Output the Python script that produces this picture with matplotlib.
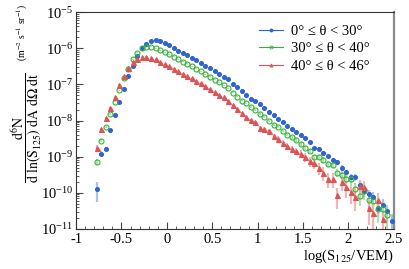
import matplotlib
matplotlib.use("Agg")
import matplotlib.pyplot as plt
from matplotlib.lines import Line2D
import numpy as np

plt.rcParams["font.family"] = ["Liberation Serif", "DejaVu Serif"]
plt.rcParams["mathtext.fontset"] = "stix"

# bin centres in log(S125/VEM)
x_vals = [round(-0.775 + 0.05 * i, 3) for i in range(66)]

flux_0_30 = [1.25e-10, 1.21e-9, 1.63e-9, 5.36e-9, 1.39e-8, 3.25e-8, 7.57e-8, 1.67e-7, 3.27e-7, 6.19e-7,
             9.91e-7, 1.33e-6, 1.58e-6, 1.65e-6, 1.58e-6, 1.39e-6, 1.22e-6, 9.91e-7, 8.51e-7, 7.50e-7,
             6.35e-7, 5.35e-7, 4.62e-7, 3.89e-7, 3.27e-7, 2.77e-7, 2.34e-7, 1.93e-7, 1.63e-7, 1.38e-7,
             1.05e-7, 8.61e-8, 6.55e-8, 5.18e-8, 4.01e-8, 3.40e-8, 2.81e-8, 2.22e-8, 1.75e-8, 1.42e-8,
             1.10e-8, 8.91e-9, 7.19e-9, 5.82e-9, 4.67e-9, 3.97e-9, 3.22e-9, 2.50e-9, 1.71e-9, 1.63e-9,
             1.24e-9, 1.06e-9, 8.24e-10, 6.98e-10, 4.95e-10, 3.70e-10, 2.69e-10, 2.69e-10, 1.62e-10, 1.12e-10,
             9.12e-11, 7.53e-11, 3.88e-11, 4.61e-11, 3.15e-11, 1.67e-11]
err_0_30 = [0.55, 0.15, 0.12, 0.07, 0.05, 0.04, 0.03, 0.03, 0.03, 0.03,
            0.03, 0.03, 0.03, 0.03, 0.03, 0.03, 0.03, 0.03, 0.03, 0.03,
            0.03, 0.03, 0.03, 0.03, 0.03, 0.03, 0.03, 0.03, 0.03, 0.03,
            0.03, 0.03, 0.03, 0.04, 0.04, 0.04, 0.04, 0.05, 0.05, 0.05,
            0.05, 0.06, 0.06, 0.07, 0.07, 0.08, 0.08, 0.09, 0.10, 0.10,
            0.12, 0.12, 0.14, 0.15, 0.17, 0.19, 0.22, 0.22, 0.27, 0.30,
            0.33, 0.36, 0.45, 0.42, 0.50, 0.55]

flux_30_40 = [7.26e-10, 2.77e-9, 6.75e-9, 1.54e-8, 3.31e-8, 6.84e-8, 1.47e-7, 2.65e-7, 4.92e-7, 7.50e-7,
              9.91e-7, 1.08e-6, 1.10e-6, 1.01e-6, 8.89e-7, 7.83e-7, 6.81e-7, 5.81e-7, 4.92e-7, 4.23e-7,
              3.72e-7, 3.15e-7, 2.70e-7, 2.30e-7, 1.93e-7, 1.63e-7, 1.34e-7, 1.14e-7, 9.59e-8, 7.92e-8,
              5.94e-8, 4.55e-8, 3.53e-8, 2.99e-8, 2.41e-8, 1.95e-8, 1.49e-8, 1.23e-8, 9.89e-9, 7.66e-9,
              6.62e-9, 5.13e-9, 3.97e-9, 3.43e-9, 2.89e-9, 2.24e-9, 1.77e-9, 1.46e-9, 9.61e-10, 9.80e-10,
              8.10e-10, 6.40e-10, 6.00e-10, 3.61e-10, 3.12e-10, 2.46e-10, 2.42e-10, 1.30e-10, 8.34e-11, 1.10e-10,
              6.22e-11, 6.07e-11, 3.57e-11, 3.57e-11, 2.44e-11]
err_30_40 = [0.20, 0.10, 0.07, 0.05, 0.04, 0.03, 0.03, 0.03, 0.03, 0.03,
             0.03, 0.03, 0.03, 0.03, 0.03, 0.03, 0.03, 0.03, 0.03, 0.03,
             0.03, 0.03, 0.03, 0.03, 0.03, 0.03, 0.03, 0.03, 0.03, 0.03,
             0.03, 0.04, 0.04, 0.04, 0.05, 0.05, 0.05, 0.06, 0.06, 0.07,
             0.07, 0.08, 0.09, 0.09, 0.10, 0.11, 0.12, 0.13, 0.15, 0.15,
             0.17, 0.18, 0.19, 0.25, 0.27, 0.30, 0.30, 0.40, 0.48, 0.42,
             0.50, 0.50, 0.60, 0.60, 0.65]

flux_40_46 = [1.77e-9, 5.82e-9, 1.20e-8, 2.22e-8, 4.55e-8, 9.59e-8, 1.70e-7, 2.83e-7, 4.07e-7, 5.12e-7,
              5.70e-7, 5.81e-7, 5.46e-7, 4.92e-7, 4.23e-7, 3.65e-7, 3.21e-7, 2.70e-7, 2.34e-7, 1.97e-7,
              1.70e-7, 1.47e-7, 1.26e-7, 1.07e-7, 8.99e-8, 7.57e-8, 6.26e-8, 5.18e-8, 4.39e-8, 3.53e-8,
              2.69e-8, 2.08e-8, 1.58e-8, 1.27e-8, 1.03e-8, 8.91e-9, 6.21e-9, 5.71e-9, 5.13e-9, 3.80e-9,
              3.14e-9, 2.39e-9, 2.01e-9, 1.68e-9, 1.44e-9, 1.21e-9, 9.98e-10, 7.60e-10, 6.82e-10, 4.95e-10,
              3.61e-10, 2.42e-10, 2.42e-10, 8.73e-11, 2.00e-10, 1.42e-10, 1.08e-10, 7.83e-11, 1.55e-10, 1.42e-10,
              3.74e-11, 2.77e-11, 6.34e-11, 1.86e-11]
err_40_46 = [0.20, 0.10, 0.07, 0.05, 0.04, 0.04, 0.03, 0.03, 0.03, 0.03,
             0.03, 0.03, 0.03, 0.03, 0.03, 0.03, 0.03, 0.03, 0.03, 0.03,
             0.03, 0.03, 0.04, 0.04, 0.04, 0.04, 0.05, 0.05, 0.05, 0.06,
             0.06, 0.07, 0.08, 0.08, 0.09, 0.10, 0.12, 0.12, 0.13, 0.15,
             0.16, 0.18, 0.20, 0.21, 0.23, 0.25, 0.27, 0.30, 0.32, 0.36,
             0.40, 0.45, 0.45, 0.60, 0.45, 0.50, 0.55, 0.60, 0.45, 0.45,
             0.65, 0.70, 0.60, 0.70]

series = [
    (r"0° ≤ θ < 30°", flux_0_30, err_0_30, "#2f62d3", "#9db6ec", "o", 2.8, True),
    (r"30° ≤ θ < 40°", flux_30_40, err_30_40, "#36b336", "#a3dca3", "o", 3.6, False),
    (r"40° ≤ θ < 46°", flux_40_46, err_40_46, "#dc5454", "#f0aaaa", "^", 3.6, True),
]

fig = plt.figure(figsize=(4.09, 2.69), dpi=100)
ax = fig.add_axes([0.186, 0.149, 0.777, 0.806])

handles = []
for label, flux, err, col, ecol, mk, ms, filled in series:
    x = np.array(x_vals[:len(flux)])
    y = np.array(flux)
    e = y * np.array(err)
    lo = np.minimum(e, y * 0.999)
    ax.errorbar(x, y, yerr=[lo, e], fmt="none", ecolor=ecol, elinewidth=1.6, alpha=0.85, zorder=2)
    ax.plot(x, y, linestyle="none", marker=mk, markersize=ms, color=col,
            markerfacecolor=col if filled else "none", markeredgewidth=0.8, zorder=3)
    handles.append(Line2D([0], [0], color=col, lw=0.8, marker=mk, markersize=2.2,
                          markerfacecolor=col if filled else "none", markeredgewidth=0.6, label=label))

ax.set_yscale("log")
ax.set_xlim(-1, 2.5)
ax.set_ylim(1e-11, 1e-5)
ax.set_xticks([-1, -0.5, 0, 0.5, 1, 1.5, 2, 2.5])
ax.set_xticklabels(["-1", "-0.5", "0", "0.5", "1", "1.5", "2", "2.5"])
ax.xaxis.set_minor_locator(matplotlib.ticker.MultipleLocator(0.1))
ax.yaxis.set_minor_locator(matplotlib.ticker.LogLocator(base=10, subs=np.arange(2, 10), numticks=20))
ax.yaxis.set_minor_formatter(matplotlib.ticker.NullFormatter())
ax.tick_params(which="both", direction="in", top=False, right=False, labelsize=10.5, color="#444444")
ax.tick_params(which="major", length=5, width=0.8)
ax.tick_params(which="minor", length=2.5, width=0.6)
ax.tick_params(axis="x", pad=3)
ax.tick_params(axis="y", pad=2)

for s in ["left", "bottom", "top"]:
    ax.spines[s].set_color("#333333")
    ax.spines[s].set_linewidth(0.8)
ax.spines["right"].set_color("#8a8a8a")
ax.spines["right"].set_linewidth(1.6)

ax.set_xlabel(r"log(S$_{125}$/VEM)", loc="right", fontsize=10.5, labelpad=1)

fig.text(0.066, 0.525,
         r"$\dfrac{\mathrm{d}^6\mathrm{N}}{\mathrm{d\ ln(S_{125})\ dA\ d\Omega\ dt}}$",
         rotation=90, ha="center", va="center", fontsize=10)
fig.text(0.054, 0.88, r"(m$^{-2}$ s$^{-1}$ sr$^{-1}$)", rotation=90,
         ha="center", va="center", fontsize=7)

ax.legend(handles=handles, loc="upper right", bbox_to_anchor=(0.955, 0.99), frameon=False,
          fontsize=10.5, handlelength=1.7, handletextpad=0.5, labelspacing=0.3, borderpad=0.2)

fig.savefig("out.png", dpi=100)
